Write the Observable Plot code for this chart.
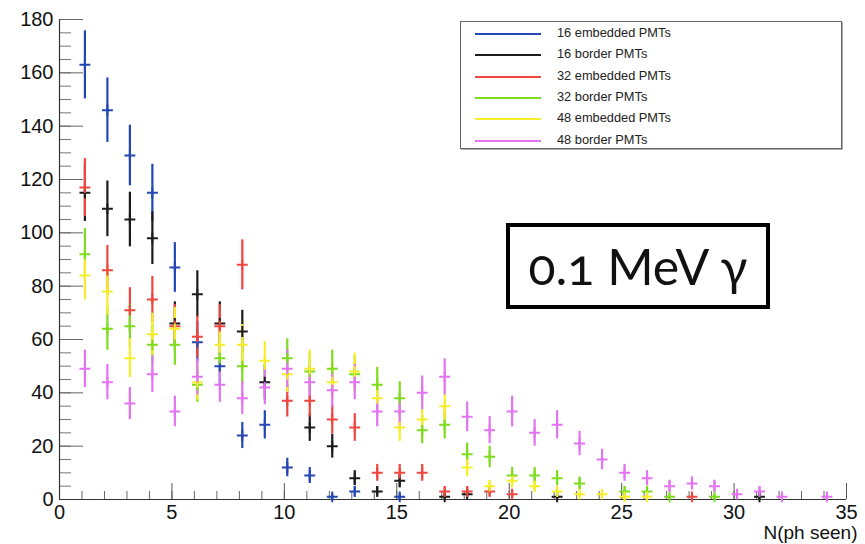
<!DOCTYPE html>
<html>
<head>
<meta charset="utf-8">
<script src="https://cdn.jsdelivr.net/npm/d3@7"></script>
<script src="https://cdn.jsdelivr.net/npm/@observablehq/plot@0.6"></script>
<style>
  html, body { margin: 0; padding: 0; background: #fff; }
  #wrap { position: relative; width: 865px; height: 544px; font-family: "Liberation Sans", Arial, Helvetica, sans-serif; }
  #wrap svg { position: absolute; left: 0; top: 0; }
  #legend { position: absolute; left: 460px; top: 21px; width: 380px; height: 126px; border: 1px solid #666; box-shadow: 1px 1px 0 #aaa; background: #fff; }
  .lrow { position: absolute; left: 0; height: 20px; width: 100%; }
  .lline { position: absolute; left: 14px; width: 66px; height: 2px; top: 10px; }
  .ltext { position: absolute; left: 96px; top: 2px; font-size: 12.8px; color: #222; white-space: nowrap; }
  #tbox { position: absolute; left: 506px; top: 223px; width: 256px; height: 78px; border: 4px solid #000; background: #fff;
          display: flex; align-items: center; justify-content: center;
          font-family: Lato, "Open Sans", sans-serif; font-size: 50px; color: #111; font-variant-numeric: oldstyle-nums; }
</style>
</head>
<body>
<div id="wrap"></div>
<script>
// ---- data ----
const nph = [1,2,3,4,5,6,7,8,9,10,11,12,13,14,15,16,17,18,19,20,21,22,23,24,25,26,27,28,29,30,31,32,33,34];
const seriesNames = ["16 embedded PMTs","16 border PMTs","32 embedded PMTs","32 border PMTs","48 embedded PMTs","48 border PMTs"];
const seriesColors = ["#2347b3","#1c1c1c","#f0463f","#7ddc1e","#f6ee2a","#e274f2"];
const emb16 = [163,146,129,115,87,59,50,24,28,12,9,1,3,null,1,null,null,null,null,null,null,null,null,null,null,null,null,null,null,null,null,null,null,null];
const bor16 = [115,109,105,98,66,77,66,63,44,null,27,20,8,3,7,null,1,2,null,null,null,1,null,null,null,null,null,null,null,null,1,null,null,null];
const emb32 = [117,86,71,75,65,61,65,88,null,37,37,30,27,10,10,10,3,3,3,2,null,null,null,null,null,null,null,1,null,null,null,null,null,null];
const bor32 = [92,64,65,58,58,43,53,50,null,53,48,49,47,43,38,26,28,17,16,9,9,8,6,null,3,3,1,null,1,null,null,null,null,null];
const emb48 = [84,78,53,62,64,44,58,58,52,47,49,44,48,38,27,30,35,12,5,7,5,3,2,2,1,1,null,null,null,null,null,null,null,null];
const bor48 = [49,44,36,47,33,46,43,38,42,49,44,41,44,33,33,40,46,31,26,33,25,28,21,15,10,8,5,6,5,2,3,1,null,1];
const xTicksMajor = [0,5,10,15,20,25,30,35];
const yTicksMajor = [0,20,40,60,80,100,120,140,160,180];
const xTitle = "N(ph seen)";
const boxText = "0.1 MeV \u03b3";

// ---- build table ----
const allSeries = [emb16, bor16, emb32, bor32, emb48, bor48];
const binShift = 0.13; // where ROOT drew the point inside each bin
const rows = [];
allSeries.forEach((vals, si) => {
  vals.forEach((v, i) => {
    if (v == null) return;
    const e = Math.sqrt(v); // Poisson error bars as ROOT draws them
    rows.push({s: seriesNames[si], x: nph[i] + binShift, v, lo: v - e, hi: v + e});
  });
});

const colorScale = {domain: seriesNames, range: seriesColors};
const xMinor = d3.range(0, 36, 1);
const yMinor = d3.range(0, 181, 5);

const plot = Plot.plot({
  width: 865, height: 544,
  marginLeft: 59, marginRight: 19, marginTop: 19, marginBottom: 45,
  x: {domain: [0, 35]},
  y: {domain: [0, 180]},
  color: colorScale,
  style: {fontFamily: '"Liberation Sans", Arial, sans-serif', background: "transparent"},
  marks: [
    // axis ticks drawn inward, ROOT style
    Plot.axisY(yMinor, {anchor: "left", tickSize: -12, fill: "none", stroke: "#777", label: null}),
    Plot.axisY(yTicksMajor, {anchor: "left", tickSize: -24, fill: "none", stroke: "#666", label: null}),
    Plot.axisY(yTicksMajor, {anchor: "left", tickSize: 0, tickPadding: 6, fontSize: 20, fill: "#111", label: null}),
    Plot.axisX(xMinor, {anchor: "bottom", tickSize: -8, fill: "none", stroke: "#666", label: null}),
    Plot.axisX(xTicksMajor, {anchor: "bottom", tickSize: -16, fill: "none", stroke: "#555", label: null}),
    Plot.axisX(xTicksMajor, {anchor: "bottom", tickSize: 0, tickPadding: 5, fontSize: 20, fill: "#111", label: null}),
    Plot.ruleX([0], {stroke: "#333", strokeWidth: 1.2}),
    Plot.ruleY([0], {stroke: "#333", strokeWidth: 1.2}),
    // error bars and markers
    Plot.ruleX(rows, {x: "x", y1: "lo", y2: "hi", stroke: "s", strokeWidth: 2.2}),
    Plot.dot(rows, {x: "x", y: "v", symbol: "plus", r: 3.6, stroke: "s", strokeWidth: 2}),
    Plot.text([xTitle], {frameAnchor: "bottom-right", text: d => d, dx: 11, dy: 39, lineAnchor: "bottom", fontSize: 19, fill: "#111", textAnchor: "end"})
  ]
});

const wrap = document.getElementById("wrap");
wrap.appendChild(plot);

// legend
const leg = document.createElement("div");
leg.id = "legend";
seriesNames.forEach((n, i) => {
  const r = document.createElement("div");
  r.className = "lrow";
  r.style.top = Math.round(1 + i * 21.3) + "px";
  const l = document.createElement("div");
  l.className = "lline";
  l.style.background = seriesColors[i];
  const t = document.createElement("div");
  t.className = "ltext";
  t.textContent = n;
  r.appendChild(l); r.appendChild(t);
  leg.appendChild(r);
});
wrap.appendChild(leg);

// annotation box
const tb = document.createElement("div");
tb.id = "tbox";
tb.textContent = boxText;
wrap.appendChild(tb);
</script>
</body>
</html>
